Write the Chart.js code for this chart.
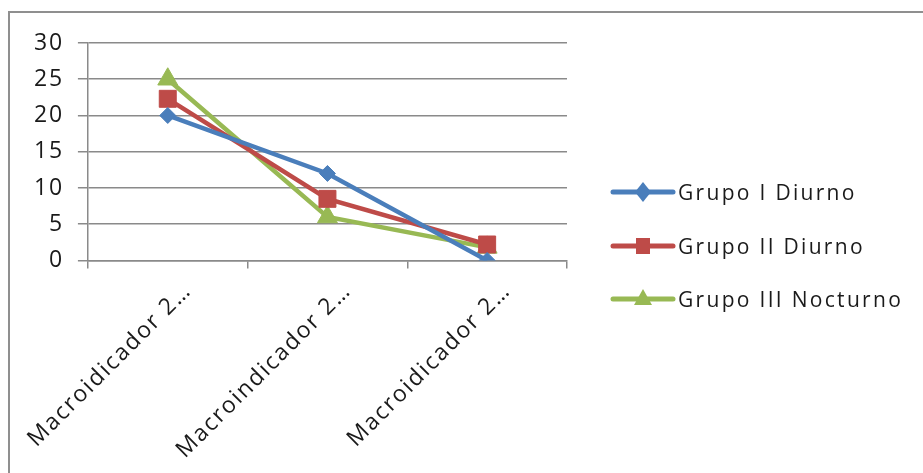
<!DOCTYPE html>
<html>
<head>
<meta charset="utf-8">
<script src="https://cdn.jsdelivr.net/npm/chart.js@4/dist/chart.umd.min.js"></script>
<style>
  html, body { margin: 0; padding: 0; background: #fff; width: 923px; height: 473px; overflow: hidden; }
  #frame { position: absolute; left: 8px; top: 11px; width: 930px; height: 480px;
           border-left: 2px solid #8f8f8f; border-top: 2px solid #8f8f8f; }
  #c { position: absolute; left: 0; top: 0; }
  #legend { position: absolute; left: 0; top: 0; width: 923px; height: 473px; pointer-events: none; }
  .item { position: absolute; left: 610px; height: 26px; display: flex; align-items: center; }
  .item canvas { display: block; width: 66px; height: 26px; }
  .item span { font-family: 'Open Sans', sans-serif; font-size: 21px; letter-spacing: 2.3px;
               color: #1a1a1a; margin-left: 2px; line-height: 26px; white-space: nowrap; }
</style>
</head>
<body>
<div id="frame"></div>
<canvas id="c" width="923" height="473" style="width:923px;height:473px"></canvas>
<div id="legend"></div>
<script>
const categories = ['Macroidicador 2…', 'Macroindicador 2…', 'Macroidicador 2…'];
const seriesNames = ['Grupo I Diurno', 'Grupo II Diurno', 'Grupo III Nocturno'];
const grupoIDiurno = [20, 12, 0];
const grupoIIDiurno = [22.3, 8.5, 2.2];
const grupoIIINocturno = [25, 6, 1.8];
const yTicks = [0, 5, 10, 15, 20, 25, 30];

const colors = ['#4a7ebb', '#be4b48', '#98b954'];
const styles = ['rectRot', 'rect', 'triangle'];
const FONT = { family: "'Open Sans', sans-serif", size: 23 };
const TEXT = '#1a1a1a';
const SPACING = '1.8px';

function makeIcon(color, style) {
  const cv = document.createElement('canvas');
  cv.width = 66; cv.height = 26;
  const g = cv.getContext('2d');
  const cy = 13;
  g.strokeStyle = color; g.lineWidth = 5; g.lineCap = 'round';
  g.beginPath(); g.moveTo(3, cy); g.lineTo(63, cy); g.stroke();
  const mx = 33;
  g.fillStyle = color;
  g.beginPath();
  if (style === 'rectRot') {
    g.moveTo(mx, cy - 10); g.lineTo(mx + 8, cy); g.lineTo(mx, cy + 10); g.lineTo(mx - 8, cy);
  } else if (style === 'rect') {
    g.rect(mx - 7, cy - 8, 14, 16);
  } else {
    g.moveTo(mx, cy - 10); g.lineTo(mx + 9, cy + 6); g.lineTo(mx - 9, cy + 6);
  }
  g.closePath(); g.fill();
  return cv;
}

// HTML legend
const legendEl = document.getElementById('legend');
seriesNames.forEach((name, i) => {
  const row = document.createElement('div');
  row.className = 'item';
  row.style.top = (179 + 53.5 * i) + 'px';
  row.appendChild(makeIcon(colors[i], styles[i]));
  const sp = document.createElement('span');
  sp.textContent = name;
  row.appendChild(sp);
  legendEl.appendChild(row);
});

const spacingPlugin = {
  id: 'spacing',
  afterInit(chart) { chart.ctx.letterSpacing = SPACING; },
  beforeUpdate(chart) { chart.ctx.letterSpacing = SPACING; },
  beforeDraw(chart) { chart.ctx.letterSpacing = SPACING; }
};

const values = [grupoIDiurno, grupoIIDiurno, grupoIIINocturno];
const radii = [8, 12, 11.5];

new Chart(document.getElementById('c'), {
  type: 'line',
  data: {
    labels: categories,
    datasets: seriesNames.map((name, i) => ({
      label: name,
      data: values[i],
      borderColor: colors[i],
      backgroundColor: colors[i],
      borderWidth: 4.5,
      pointStyle: styles[i],
      pointRadius: radii[i],
      pointBorderWidth: 1,
      pointBackgroundColor: colors[i],
      pointBorderColor: colors[i],
      tension: 0,
      fill: false
    }))
  },
  plugins: [spacingPlugin],
  options: {
    responsive: false,
    animation: false,
    events: [],
    layout: { padding: { top: 43, left: 20, right: 356, bottom: 0 } },
    plugins: {
      tooltip: { enabled: false },
      legend: { display: false }
    },
    scales: {
      x: {
        offset: true,
        afterFit(scale) { scale.paddingLeft = 0; scale.paddingRight = 0; },
        grid: { offset: true, drawOnChartArea: false, drawTicks: true, tickLength: 8, color: '#8a8a8a', lineWidth: 1.5 },
        border: { color: '#8a8a8a', width: 1.5 },
        ticks: { minRotation: 45, maxRotation: 45, autoSkip: false, labelOffset: 20, padding: 9, font: FONT, color: TEXT }
      },
      y: {
        min: 0, max: 30,
        afterBuildTicks(scale) { scale.ticks = yTicks.map(v => ({ value: v })); },
        grid: { color: '#8a8a8a', lineWidth: 1.5, tickLength: 10 },
        border: { color: '#8a8a8a', width: 1.5 },
        ticks: { padding: 14, font: FONT, color: TEXT }
      }
    }
  }
});
</script>
</body>
</html>
